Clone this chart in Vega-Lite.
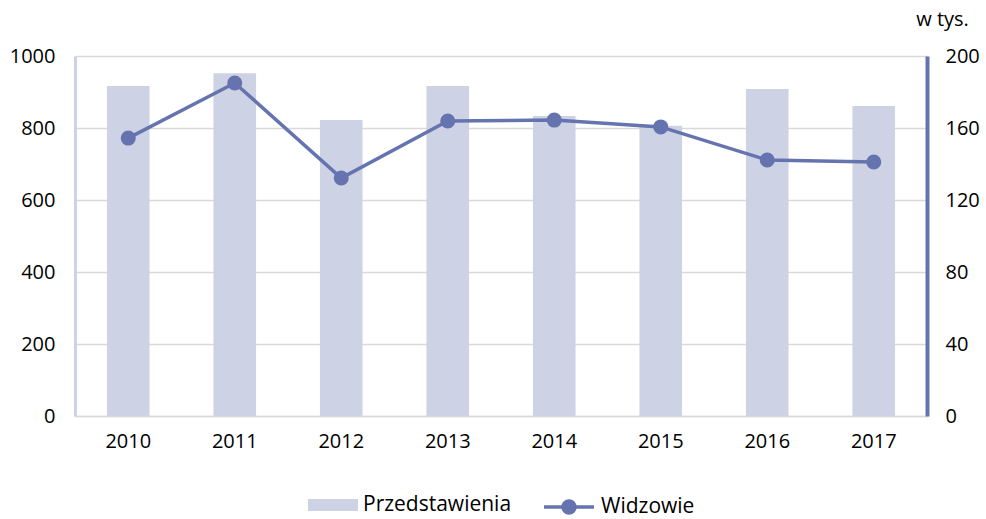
{
  "$schema": "https://vega.github.io/schema/vega-lite/v6.json",
  "width": 852,
  "height": 360,
  "autosize": {"type": "none"},
  "padding": {"left": 75, "top": 56, "right": 59, "bottom": 103},
  "background": "white",
  "config": {
    "font": "Open Sans",
    "view": {"stroke": null},
    "axis": {"labelFont": "Open Sans", "labelFontSize": 20, "labelColor": "#000000", "titleFont": "Open Sans", "titleColor": "#000000", "titleFontWeight": "normal"},
    "legend": {"labelFont": "Open Sans", "labelFontSize": 21, "labelColor": "#000000", "orient": "bottom", "direction": "horizontal", "layout": {"bottom": {"anchor": "middle", "direction": "horizontal", "margin": 30}}}
  },
  "data": {
    "values": [
      {"year": "2010", "przedstawienia": 917, "widzowie": 154.4},
      {"year": "2011", "przedstawienia": 952, "widzowie": 185},
      {"year": "2012", "przedstawienia": 822, "widzowie": 132.2},
      {"year": "2013", "przedstawienia": 917, "widzowie": 163.9},
      {"year": "2014", "przedstawienia": 833, "widzowie": 164.4},
      {"year": "2015", "przedstawienia": 806, "widzowie": 160.6},
      {"year": "2016", "przedstawienia": 908, "widzowie": 142.2},
      {"year": "2017", "przedstawienia": 861, "widzowie": 141.1}
    ]
  },
  "encoding": {
    "x": {
      "field": "year", "type": "ordinal",
      "scale": {"paddingInner": 0.6, "paddingOuter": 0.3},
      "axis": {"title": null, "labelAngle": 0, "ticks": false, "domain": true, "domainColor": "#D9D9D9", "domainWidth": 1.5, "labelPadding": 15}
    }
  },
  "layer": [
    {
      "mark": {"type": "bar"},
      "encoding": {
        "y": {
          "field": "przedstawienia", "type": "quantitative",
          "scale": {"domain": [0, 1000], "nice": false},
          "axis": {"title": null, "orient": "left", "format": "d", "values": [0, 200, 400, 600, 800, 1000], "ticks": false, "grid": true, "gridColor": "#D9D9D9", "gridWidth": 1.5, "domain": true, "domainColor": "#CDD2E4", "domainWidth": 3, "labelPadding": 20}
        },
        "fill": {
          "datum": "Przedstawienia", "type": "nominal",
          "scale": {"range": ["#CDD2E4"]},
          "legend": {"title": null, "offset": 29, "symbolType": "M-1,-0.24L1,-0.24L1,0.24L-1,0.24Z", "symbolSize": 2500, "symbolStrokeWidth": 0, "labelOffset": 5}
        }
      }
    },
    {
      "mark": {"type": "line", "strokeWidth": 3.5, "point": {"filled": true, "size": 170, "color": "#6574AF"}},
      "encoding": {
        "y": {
          "field": "widzowie", "type": "quantitative",
          "scale": {"domain": [0, 200], "nice": false},
          "axis": {"title": "w tys.", "orient": "right", "values": [0, 40, 80, 120, 160, 200], "ticks": false, "grid": false, "domain": true, "domainColor": "#6574AF", "domainWidth": 4, "labelPadding": 18, "titleAngle": 0, "titleFontSize": 20, "titleAlign": "center", "titleBaseline": "alphabetic", "titleX": 15, "titleY": -31}
        },
        "stroke": {
          "datum": "Widzowie", "type": "nominal",
          "scale": {"range": ["#6574AF"]},
          "legend": {"title": null, "offset": 29, "symbolType": "M-1,0L1,0M0.24,0A0.24,0.24 0 1,1 -0.24,0A0.24,0.24 0 1,1 0.24,0Z", "symbolSize": 2500, "symbolStrokeWidth": 3.5, "symbolFillColor": "#6574AF", "labelOffset": 5}
        }
      }
    }
  ],
  "resolve": {"scale": {"y": "independent"}}
}
